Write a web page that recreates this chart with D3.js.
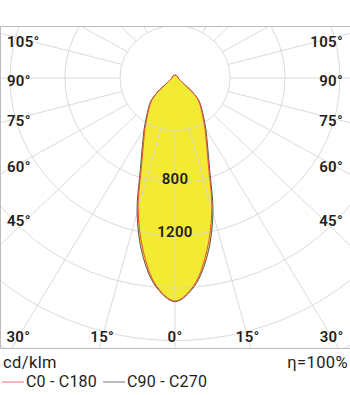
<!DOCTYPE html>
<html>
<head>
<meta charset="utf-8">
<script src="https://cdn.jsdelivr.net/npm/d3@7"></script>
<style>
body { margin: 0; background: #fff; }
text { font-family: Roboto, sans-serif; font-size: 15px; fill: #1e1e1e; font-weight: 600; letter-spacing: 0.3px; }
text.foot { font-size: 16.5px; font-weight: 400; letter-spacing: 0.4px; }
text.leg { font-size: 16px; letter-spacing: 0.2px; }
</style>
</head>
<body>
<div id="chart"></div>
<script>
// gamma angles (deg) and intensities in cd/klm
var gammas = [0, 5, 10, 15, 20, 25, 30, 35, 40, 45, 50, 55, 60, 65, 70, 75, 80, 85, 90, 100, 110, 120, 130, 140, 150, 160, 170, 180]
var c0c180 = [1700, 1585, 1335, 1035, 712, 540, 434, 350, 291, 240, 158, 79, 55, 43, 35, 30, 26, 23, 21, 21, 21, 21, 21, 21, 21, 21, 21, 21]
var c90c270 = [1704, 1595, 1365, 1065, 735, 558, 448, 362, 300, 248, 165, 82, 57, 44, 36, 31, 27, 24, 22, 22, 22, 22, 22, 22, 22, 22, 22, 22]

var rings = [400, 800, 1200, 1600, 2000, 2400, 2800]
var ringLabels = [800, 1200]
var spokes = [0, 15, 30, 45, 60, 75, 90, 105, 120, 135, 150, 165, 180]
var sideTicks = [105, 90, 75, 60, 45]
var bottomTicks = [30, 15, 0]

var W = 350, H = 395
var frame = {top: 26, bottom: 349, left: 0, right: 350}
var cx = 175, cy = 78

var rx = d3.scaleLinear().domain([0, 400]).range([0, 55])
var ry = d3.scaleLinear().domain([0, 400]).range([0, 52.5])

function pt(g, v, side) {
  var a = g * Math.PI / 180
  return [cx + side * rx(v) * Math.sin(a), cy + ry(v) * Math.cos(a)]
}

var svg = d3.select('#chart').append('svg').attr('width', W).attr('height', H)

svg.append('clipPath').attr('id', 'clip')
  .append('rect')
  .attr('x', frame.left).attr('y', frame.top)
  .attr('width', frame.right - frame.left).attr('height', frame.bottom - frame.top)

var plot = svg.append('g').attr('clip-path', 'url(#clip)')

// closed curve: left half (C180 / C270) from 180 down to 0, then right half (C0 / C90) back up
function loop(vals) {
  var left = gammas.map(function(g, i) { return pt(g, vals[i], -1) }).reverse()
  var right = gammas.map(function(g, i) { return pt(g, vals[i], 1) }).slice(1)
  return left.concat(right)
}
var line = d3.line().curve(d3.curveCatmullRom.alpha(0.5))

plot.append('path')
  .attr('d', line(loop(c90c270)) + 'Z')
  .attr('fill', '#f3ea34')

// grid
var grid = plot.append('g').attr('stroke', '#d4d4d4').attr('stroke-opacity', 0.85).attr('fill', 'none')
grid.selectAll('ellipse').data(rings).join('ellipse')
  .attr('cx', cx).attr('cy', cy)
  .attr('rx', function(d) { return rx(d) }).attr('ry', function(d) { return ry(d) })

var spokeData = []
spokes.forEach(function(g) {
  spokeData.push([g, 1])
  if (g > 0 && g < 180) spokeData.push([g, -1])
})
grid.selectAll('line').data(spokeData).join('line')
  .attr('x1', function(d) { return pt(d[0], 400, d[1])[0] })
  .attr('y1', function(d) { return pt(d[0], 400, d[1])[1] })
  .attr('x2', function(d) { return pt(d[0], 4000, d[1])[0] })
  .attr('y2', function(d) { return pt(d[0], 4000, d[1])[1] })

// curves
plot.append('path')
  .attr('d', line(loop(c90c270)) + 'Z')
  .attr('fill', 'none').attr('stroke', '#555').attr('stroke-width', 1)
plot.append('path')
  .attr('d', line(loop(c0c180)) + 'Z')
  .attr('fill', 'none').attr('stroke', '#ee4b3a').attr('stroke-width', 1)

// frame (no right edge)
svg.append('path')
  .attr('d', 'M' + (frame.right) + ',' + (frame.top + 0.5) + 'H0.5V' + (frame.bottom - 0.5) + 'H' + frame.right)
  .attr('fill', 'none').attr('stroke', '#bbb')

// ring labels
svg.selectAll('text.ring').data(ringLabels).join('text')
  .attr('class', 'ring')
  .attr('x', cx).attr('y', function(d) { return cy + ry(d) + 1 })
  .attr('text-anchor', 'middle')
  .text(function(d) { return d })

// angle labels on the sides
var inset = 155
sideTicks.forEach(function(g) {
  var a = g * Math.PI / 180
  var t = inset / (55 * Math.sin(a))
  var y = cy + t * 52.5 * Math.cos(a) + 3
  if (g === 45) y -= 8
  svg.append('text').attr('x', 7).attr('y', y).attr('dy', '0.35em').text(g + '°')
  svg.append('text').attr('x', 343).attr('y', y).attr('dy', '0.35em')
    .attr('text-anchor', 'end').text(g + '°')
})
// angle labels along the bottom
var by = 337
bottomTicks.forEach(function(g) {
  var a = g * Math.PI / 180
  var t = (by - cy) / (52.5 * Math.cos(a))
  var dx = t * 55 * Math.sin(a)
  var sides = g === 0 ? [1] : [-1, 1]
  sides.forEach(function(s) {
    svg.append('text').attr('x', cx + s * dx).attr('y', by).attr('dy', '0.35em')
      .attr('text-anchor', 'middle').text(g + '°')
  })
})

// footer
svg.append('text').attr('class', 'foot').attr('x', 3).attr('y', 368).text('cd/klm')
svg.append('text').attr('class', 'foot').attr('x', 348).attr('y', 368).attr('text-anchor', 'end').text('η=100%')

var legend = [
  {name: 'C0 - C180', color: '#f07070', x: 2},
  {name: 'C90 - C270', color: '#777', x: 103}
]
legend.forEach(function(l) {
  svg.append('line').attr('x1', l.x).attr('x2', l.x + 22).attr('y1', 382).attr('y2', 382)
    .attr('stroke', l.color)
  svg.append('text').attr('class', 'foot leg').attr('x', l.x + 24).attr('y', 387).text(l.name)
})
</script>
</body>
</html>
